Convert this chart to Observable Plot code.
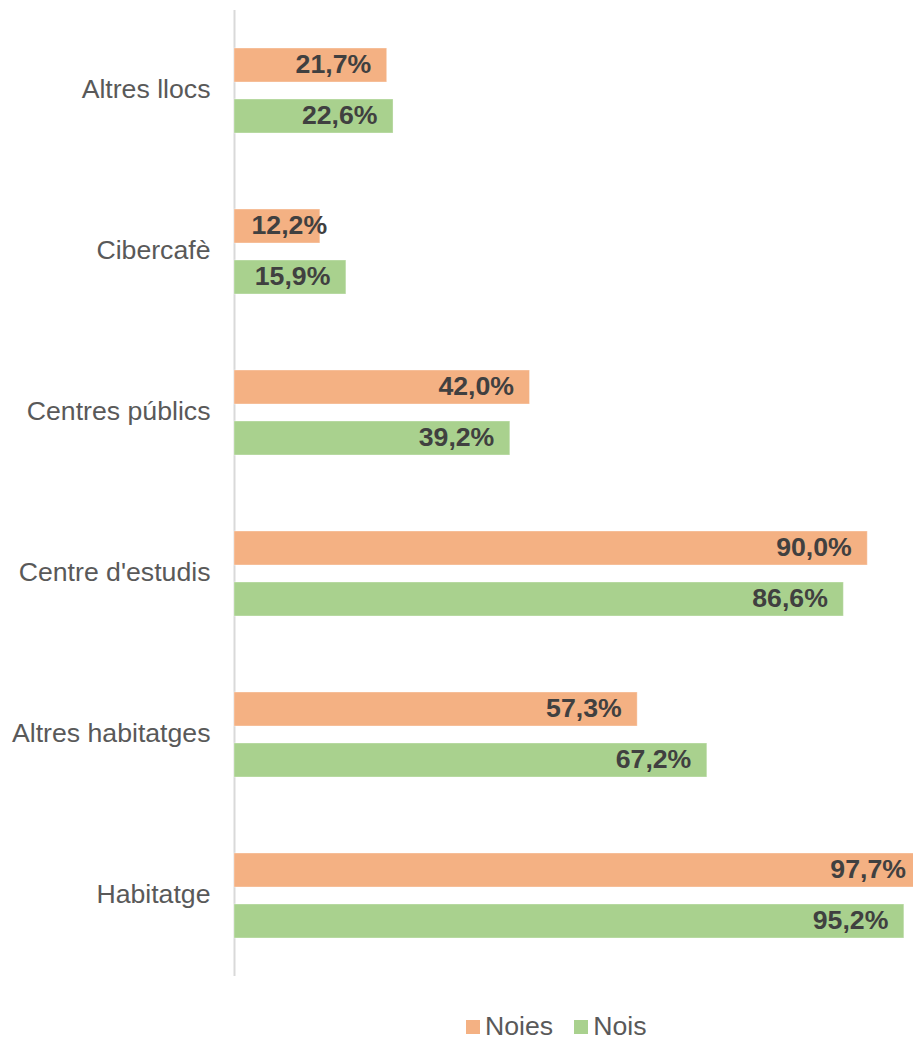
<!DOCTYPE html>
<html>
<head>
<meta charset="utf-8">
<script src="https://cdn.jsdelivr.net/npm/d3@7"></script>
<script src="https://cdn.jsdelivr.net/npm/@observablehq/plot@0.6"></script>
<style>
  body { margin: 0; background: #fff; font-family: "Liberation Sans", Arial, sans-serif; overflow: hidden; }
  #chart svg { display: block; }
  .legend { display: flex; align-items: center; height: 31px; margin-top: 21px; padding-left: 466px;
            font-size: 26.67px; line-height: normal; color: #595959; }
  .legend .sw { width: 14px; height: 14px; margin-right: 5px; display: inline-block; }
  .legend .lab { margin-right: 21px; }
</style>
</head>
<body>
<div id="chart"></div>
<div class="legend" id="legend"></div>
<script>
const categories = ["Altres llocs", "Cibercafè", "Centres públics", "Centre d'estudis", "Altres habitatges", "Habitatge"];
const series = ["Noies", "Nois"];
const noies = [21.7, 12.2, 42.0, 90.0, 57.3, 97.7];
const nois = [22.6, 15.9, 39.2, 86.6, 67.2, 95.2];
const colors = ["#F4B183", "#A9D18E"];
const xMax = 96.5;
const minInside = 14; // labels of shorter bars are placed from the bar start

const data = categories.flatMap((c, i) => [
  {category: c, series: "Noies", value: noies[i]},
  {category: c, series: "Nois", value: nois[i]}
]);
const fmt = v => v.toFixed(1).replace(".", ",") + "%";
const font = "'Liberation Sans', Arial, sans-serif";

const plot = Plot.plot({
  width: 913,
  height: 990,
  marginLeft: 234,
  marginRight: 0,
  marginTop: 10,
  marginBottom: 14,
  style: {fontFamily: font, background: "white", overflow: "hidden"},
  x: {domain: [0, xMax], axis: null},
  y: {domain: series, axis: null, paddingInner: 0.34, paddingOuter: 0.73},
  fy: {domain: categories, padding: 0, label: null},
  color: {domain: series, range: colors},
  marks: [
    Plot.axisFy({anchor: "left", tickSize: 0, tickPadding: 24, dy: -1.5, fontSize: 26.67, fill: "#595959", label: null}),
    Plot.ruleX([0], {stroke: "#D9D9D9", strokeWidth: 2}),
    Plot.barX(data, {x: "value", y: "series", fy: "category", fill: "series",
      stroke: "white", strokeOpacity: 0.35, strokeWidth: 1}),
    Plot.text(data.filter(d => d.value >= minInside), {x: "value", y: "series", fy: "category", text: d => fmt(d.value),
      textAnchor: "end", dx: -16, dy: -1, fontSize: 26.67, fontWeight: "bold", fill: "#404040"}),
    Plot.text(data.filter(d => d.value < minInside), {x: 0, y: "series", fy: "category", text: d => fmt(d.value),
      textAnchor: "start", dx: 17, dy: -1, fontSize: 26.67, fontWeight: "bold", fill: "#404040"})
  ]
});
document.getElementById("chart").appendChild(plot);

const legend = document.getElementById("legend");
series.forEach((s, i) => {
  const sw = document.createElement("span");
  sw.className = "sw";
  sw.style.background = colors[i];
  const lab = document.createElement("span");
  lab.className = "lab";
  lab.textContent = s;
  legend.appendChild(sw);
  legend.appendChild(lab);
});
</script>
</body>
</html>
